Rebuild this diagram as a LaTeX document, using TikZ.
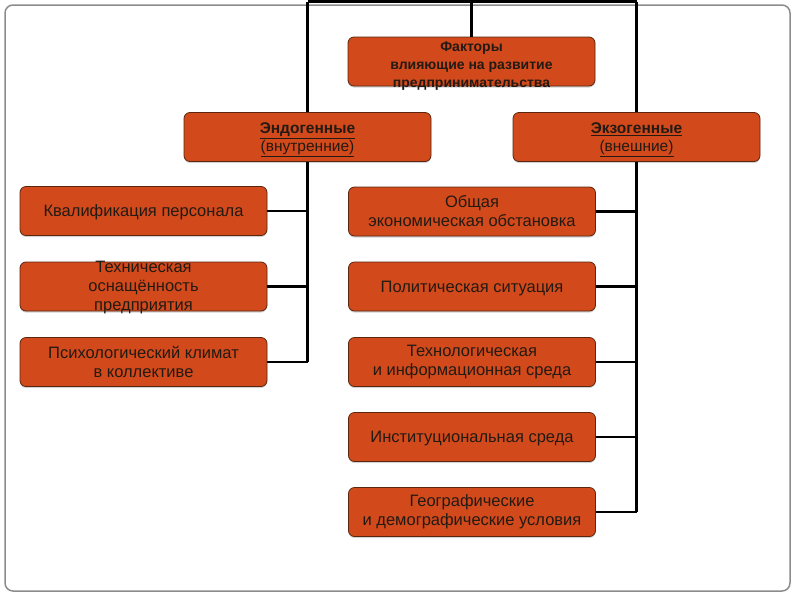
\documentclass[tikz,border=0pt]{standalone}
\usepackage{fontspec}
\setmainfont{Liberation Sans}
\usepackage{tikz}
\usetikzlibrary{shadows}
\definecolor{boxfill}{HTML}{D24A1B}
\definecolor{boxline}{HTML}{5A2610}
\definecolor{boxtext}{HTML}{231A14}

\begin{document}
\begin{tikzpicture}[x=1pt,y=-1pt,
    factor/.style={draw=boxline,line width=0.8pt,fill=boxfill,rounded corners=6pt,
      minimum width=247pt,minimum height=49pt,inner sep=0pt,align=center,
      text=boxtext,font=\fontsize{16.5}{19}\selectfont,
      drop shadow={shadow xshift=0pt,shadow yshift=-1.5pt,opacity=0.35}},
    oneline/.style={factor,text depth=0pt},
    lbl/.style={text=boxtext,align=center,inner sep=0pt},
    link/.style={line width=2.5pt,black}]
  \useasboundingbox (0,0) rectangle (800,600);
  \draw[gray!90,line width=1.5pt,rounded corners=8pt] (5,5) rectangle (790,591); % frame
  % top levels
  \node[factor] (root) at (471.5,61.5) {};
  \node[lbl,font=\fontsize{14}{18}\selectfont\bfseries] (rootlbl) at (471.5,66)
    {Факторы\\влияющие на развитие\\предпринимательства};
  \node[factor] (endo) at (307.5,137) {};
  \node[lbl,font=\fontsize{15.5}{18}\selectfont\bfseries] (endolbl) at (307.5,139.5)
    {\underline{Эндогенные}\\{\mdseries\underline{(внутренние)}}};
  \node[factor] (exo) at (636.5,137) {};
  \node[lbl,font=\fontsize{15.5}{18}\selectfont\bfseries] (exolbl) at (636.5,139.5)
    {\underline{Экзогенные}\\{\mdseries\underline{(внешние)}}};
  % endogenous factors
  \node[oneline] (kval) at (143.5,211) {Квалификация персонала};
  \node[factor] (tech) at (143.5,286.5) {};
  \node[lbl,font=\fontsize{16.5}{19}\selectfont] (techlbl) at (143.5,287.5)
    {Техническая\\оснащённость\\предприятия};
  \node[factor] (psy) at (143.5,362) {Психологический климат\\в коллективе};
  % exogenous factors
  \node[factor] (econ) at (472,211.5) {Общая\\экономическая обстановка};
  \node[oneline] (pol) at (472,286.5) {Политическая ситуация};
  \node[factor] (info) at (472,362) {Технологическая\\и информационная среда};
  \node[oneline] (inst) at (472,437) {Институциональная среда};
  \node[factor] (geo) at (472,512) {Географические\\и демографические условия};
  % connectors
  \coordinate (topL) at (307.5,1.5);
  \coordinate (topR) at (636.5,1.5);
  \draw[link] (root.north) -- (root.north |- topL);
  \draw[link] (topL) -- (topR);
  \draw[link] (topL) -- (endo.north);
  \draw[link] (topR) -- (exo.north);
  \draw[link] (endo.south) -- (endo.south |- psy.east);
  \draw[link] (exo.south) -- (exo.south |- geo.east);
  \foreach \n in {kval,tech,psy}
    \draw[link] (\n.east) -- (\n.east -| endo.south);
  \foreach \n in {econ,pol,info,inst,geo}
    \draw[link] (\n.east) -- (\n.east -| exo.south);
\end{tikzpicture}
\end{document}
